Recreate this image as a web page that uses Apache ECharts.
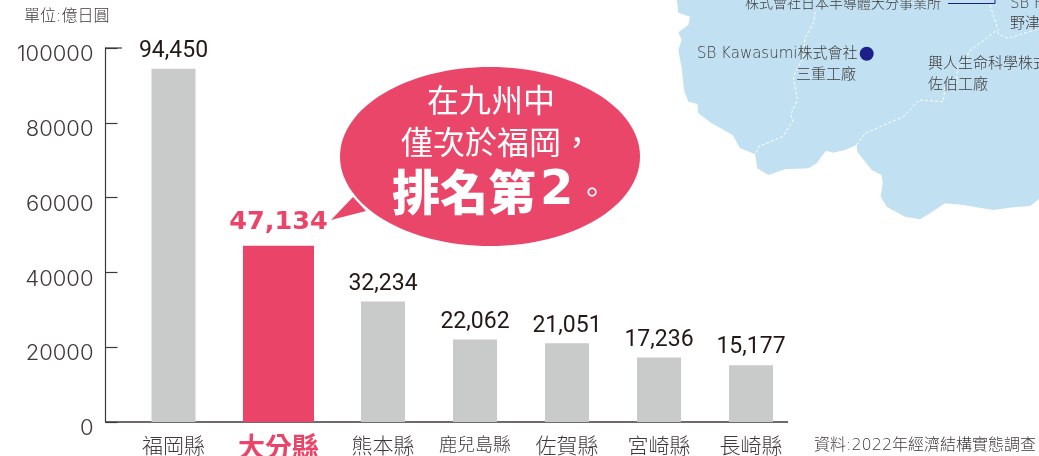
<!DOCTYPE html>
<html>
<head>
<meta charset="utf-8">
<style>
  html, body { margin: 0; padding: 0; background: #fff; overflow: hidden; }
  #main { width: 1039px; height: 456px; }
</style>
<script src="https://cdn.jsdelivr.net/npm/echarts@6/dist/echarts.min.js"></script>
</head>
<body>
<div id="main"></div>
<script>
var categories = ['福岡縣', '大分縣', '熊本縣', '鹿兒島縣', '佐賀縣', '宮崎縣', '長崎縣'];
var values = [94450, 47134, 32234, 22062, 21051, 17236, 15177];
var yTicks = [0, 20000, 40000, 60000, 80000, 100000];

var GRAY = '#c9caca', RED = '#ea4569', INK = '#3e3a39', MAP = '#c1e0f2';
var CJK = '"Noto Sans CJK TC", sans-serif';
var MIXED = '"DejaVu Sans", "Noto Sans CJK TC", sans-serif';

function fmt(v) {
  return String(v).replace(/\B(?=(\d{3})+$)/g, ',');
}

// 地圖底圖 (參考圖 zoom 座標 -> 畫面座標)
function mapPts(list) {
  return list.map(function (p) { return [660 + p[0] / 3, p[1] / 3]; });
}
var mapShape = mapPts([[50,-5],[55,38],[90,50],[85,75],[55,97],[65,120],[55,150],[65,205],[72,270],[85,305],[112,312],[115,340],[155,370],[218,405],[240,445],[285,462],[292,505],[325,525],[375,508],[445,505],[470,490],[498,452],[520,458],[555,450],[590,435],[592,455],[635,510],[665,525],[668,550],[662,590],[680,620],[735,650],[780,658],[810,640],[855,610],[910,615],[1000,630],[1060,622],[1110,618],[1140,595],[1140,-5]]);
var border1 = mapPts([[465,35],[462,65],[435,115],[430,170],[400,230],[412,300],[392,345],[400,360],[368,410],[295,440],[287,462]]);
var border2 = mapPts([[590,435],[615,400],[730,350],[778,300],[850,305],[855,260],[890,250],[892,200],[920,190],[925,155],[965,125],[1008,92],[1020,105],[1045,115],[1140,85]]);
var border3 = mapPts([[990,15],[1015,92]]);

function dashed(points) {
  return { type: 'polyline', z: 1, shape: { points: points }, style: { fill: null, stroke: '#fff', lineWidth: 1, lineDash: [3, 2] } };
}
function label(text, x, y, size, color) {
  return { type: 'text', z: 3, x: x, y: y, style: { text: text, font: '300 ' + size + 'px ' + MIXED, fill: color || INK, verticalAlign: 'middle' } };
}

function xAxisFor(idx, names) {
  return {
    type: 'category', gridIndex: idx, data: names,
    axisLine: { show: false }, axisTick: { show: false },
    axisLabel: {
      interval: 0, margin: 13, color: INK, fontFamily: CJK, fontWeight: 300, fontSize: 21,
      formatter: function (n) { return n.length > 3 ? '{s|' + n + '}' : n; },
      rich: { s: { fontSize: 18, fontFamily: CJK, fontWeight: 300, color: INK } }
    }
  };
}
function yAxisFor(idx) {
  var first = idx === 0;
  return {
    type: 'value', gridIndex: idx, min: 0, max: 100000, interval: 20000, show: first,
    axisLine: { show: true, lineStyle: { color: INK, width: 1.2 } },
    axisTick: { show: true, inside: true, length: 12, lineStyle: { color: INK, width: 1.2 } },
    splitLine: { show: false },
    axisLabel: {
      margin: 12, color: INK, fontFamily: 'Inter', fontWeight: 300, fontSize: 22,
      verticalAlign: 'top', lineHeight: 13,
      formatter: function (v) { return yTicks.indexOf(v) >= 0 ? String(v) : ''; }
    }
  };
}
function barSeries(idx, from, to, width, color, labelStyle) {
  return {
    type: 'bar', xAxisIndex: idx, yAxisIndex: idx, barWidth: width,
    data: values.slice(from, to),
    itemStyle: { color: color },
    label: Object.assign({ show: true, position: 'top', formatter: function (p) { return fmt(p.value); } }, labelStyle)
  };
}

var grayLabel = { distance: 6, color: '#231815', fontFamily: 'Roboto', fontSize: 23 };
var redLabel = { distance: 10, color: RED, fontFamily: '"DejaVu Sans"', fontWeight: 700, fontSize: 25.5 };

var myChart = echarts.init(document.getElementById('main'), null, { renderer: 'canvas' });
var redAxis = xAxisFor(1, categories.slice(1, 2));
redAxis.axisLabel.color = RED;
redAxis.axisLabel.fontWeight = 700;
redAxis.axisLabel.fontSize = 27;
redAxis.axisLabel.margin = 11;

myChart.setOption({
  animation: false,
  // 長條間距不等, 所以分成三個 grid
  grid: [
    { left: 105.5, width: 136, top: 48, bottom: 34, outerBoundsMode: 'none' },
    { left: 219, width: 119, top: 48, bottom: 34, outerBoundsMode: 'none' },
    { left: 337, width: 460, top: 48, bottom: 34, outerBoundsMode: 'none' }
  ],
  xAxis: [xAxisFor(0, categories.slice(0, 1)), redAxis, xAxisFor(2, categories.slice(2))],
  yAxis: [yAxisFor(0), yAxisFor(1), yAxisFor(2)],
  series: [
    barSeries(0, 0, 1, 44, GRAY, grayLabel),
    barSeries(1, 1, 2, 71, RED, redLabel),
    barSeries(2, 2, 7, 44, GRAY, grayLabel)
  ],
  graphic: [
    { type: 'polygon', z: 0, shape: { points: mapShape }, style: { fill: MAP } },
    dashed(border1), dashed(border2), dashed(border3),
    { type: 'polyline', z: 2, shape: { points: [[948, 3.5], [995, 3.5], [995, -2]] }, style: { fill: null, stroke: '#1d2088', lineWidth: 1 } },
    { type: 'circle', z: 3, shape: { cx: 866.7, cy: 53.7, r: 7 }, style: { fill: '#1d2088' } },
    label('株式會社日本半導體大分事業所', 745, 4, 14),
    label('SB F', 1010, 4, 15),
    label('野津', 1010, 24, 15),
    label('SB Kawasumi株式會社', 697, 54, 15),
    label('三重工廠', 796, 75, 15),
    label('興人生命科學株式', 928, 64, 15),
    label('佐伯工廠', 928, 85, 15),
    label('單位:億日圓', 24, 17, 16),
    label('資料:2022年經濟結構實態調查', 814, 446, 16),
    // 橫軸與最上方刻度
    { type: 'line', z: 2, shape: { x1: 105, y1: 422, x2: 788, y2: 422 }, style: { stroke: INK, lineWidth: 1.5 } },
    { type: 'line', z: 2, shape: { x1: 105, y1: 48, x2: 122, y2: 48 }, style: { stroke: INK, lineWidth: 1.2 } },
    // 對話框
    { type: 'polygon', z: 4, shape: { points: [[353, 197], [331, 220], [366, 211]] }, style: { fill: '#ea4669' } },
    { type: 'ellipse', z: 4, shape: { cx: 490, cy: 156.5, rx: 150, ry: 89.5 }, style: { fill: '#ea4669' } },
    { type: 'text', z: 5, x: 491, y: 100, style: { text: '在九州中', font: '400 32px ' + CJK, fill: '#fff', align: 'center', verticalAlign: 'middle' } },
    { type: 'text', z: 5, x: 401, y: 142, style: { text: '僅次於福岡，', font: '400 32px ' + CJK, fill: '#fff', verticalAlign: 'middle' } },
    { type: 'text', z: 5, x: 392, y: 192, style: { text: '排名第', font: '900 48px ' + CJK, fill: '#fff', verticalAlign: 'middle' } },
    { type: 'text', z: 5, x: 540, y: 192, style: { text: '2', font: '700 48px "DejaVu Sans"', fill: '#fff', verticalAlign: 'middle' } },
    { type: 'text', z: 5, x: 577, y: 192, style: { text: '。', font: '400 30px ' + CJK, fill: '#fff', verticalAlign: 'middle' } }
  ]
});
</script>
</body>
</html>
